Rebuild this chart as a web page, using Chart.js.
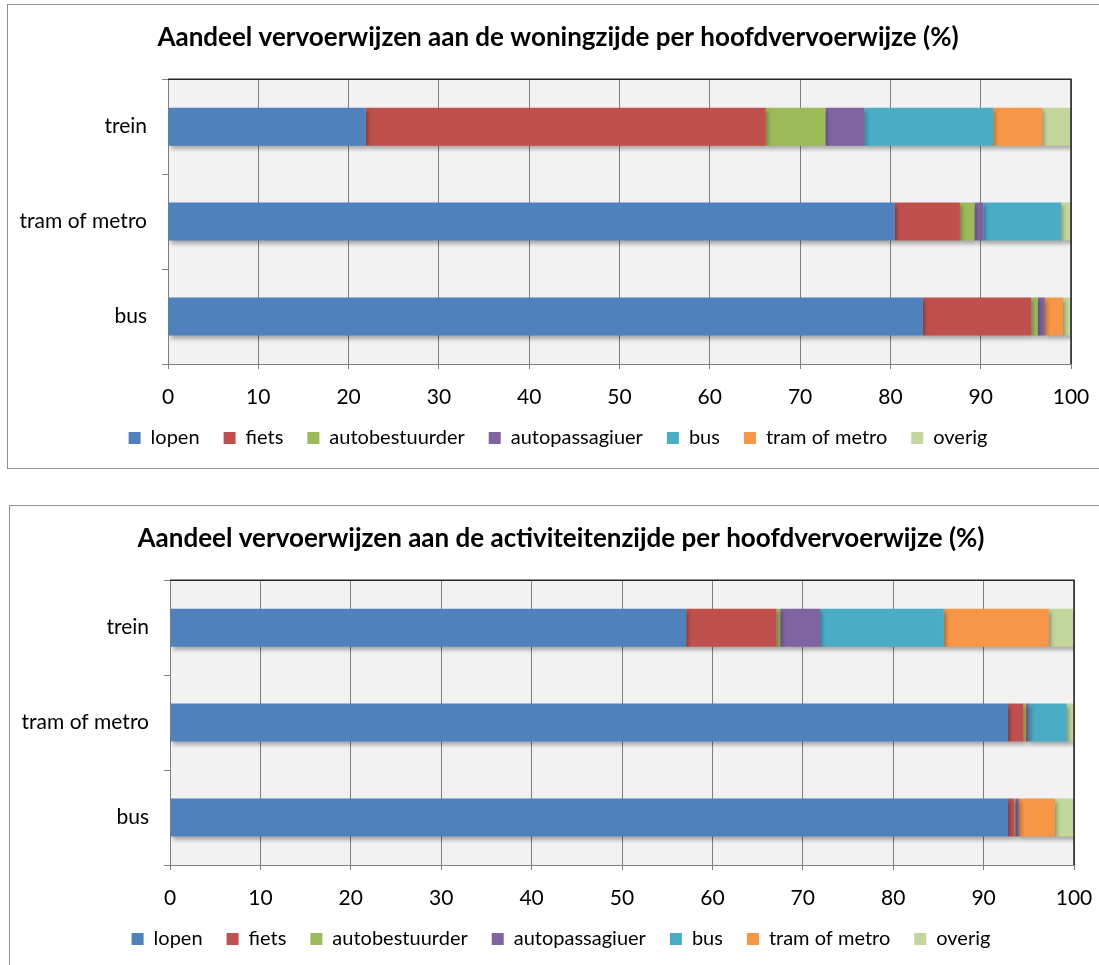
<!DOCTYPE html>
<html>
<head>
<meta charset="utf-8">
<script src="https://cdn.jsdelivr.net/npm/chart.js@4.4.0/dist/chart.umd.min.js"></script>
<style>
    html, body { margin: 0; padding: 0; background: #ffffff; overflow: hidden; width: 1099px; height: 965px; }
    .box { position: absolute; border: 1px solid #8e8e8e; background: #ffffff; }
    #box1 { left: 7px; top: 4px; }
    #box2 { left: 9px; top: 505px; }
    canvas { display: block; }
</style>
</head>
<body>
<div class="box" id="box1"><canvas id="woningChart" width="1100" height="463"></canvas></div>
<div class="box" id="box2"><canvas id="activiteitChart" width="1102" height="463"></canvas></div>
<script>
// Categories (top to bottom) and legend names
const categories = ['trein', 'tram of metro', 'bus'];
const modes = ['lopen', 'fiets', 'autobestuurder', 'autopassagiuer', 'bus', 'tram of metro', 'overig'];
const xTicks = [0, 10, 20, 30, 40, 50, 60, 70, 80, 90, 100];

// Woningzijde (%)
const woningLopen = [21.9, 80.5, 83.6];
const woningFiets = [44.3, 7.2, 12.0];
const woningAutobestuurder = [6.6, 1.6, 0.7];
const woningAutopassagier = [4.3, 1.0, 0.8];
const woningBus = [14.3, 8.6, 0];
const woningTramMetro = [5.4, 0, 2.0];
const woningOverig = [3.2, 1.1, 0.9];

// Activiteitenzijde (%)
const activiteitLopen = [57.1, 92.7, 92.7];
const activiteitFiets = [10.0, 1.7, 0.7];
const activiteitAutobestuurder = [0.4, 0.3, 0.1];
const activiteitAutopassagier = [4.4, 0.3, 0.4];
const activiteitBus = [13.7, 4.2, 0];
const activiteitTramMetro = [11.6, 0, 4.0];
const activiteitOverig = [2.8, 0.8, 2.1];

const seriesColors = ['#4F81BD', '#C0504D', '#9BBB59', '#8064A2', '#4BACC6', '#F79646', '#C3D69B'];

const FONT = 'Lato, "Liberation Sans", sans-serif';

// Grey plot area background
const plotBackground = {
    id: 'plotBackground',
    beforeDraw(chart) {
        const {ctx, chartArea} = chart;
        ctx.save();
        ctx.fillStyle = '#F2F2F2';
        ctx.fillRect(chartArea.left, chartArea.top, chartArea.right - chartArea.left, chartArea.bottom - chartArea.top);
        ctx.restore();
    },
    afterDraw(chart) {
        // dark border on top and right of the plot area
        const {ctx, chartArea} = chart;
        ctx.save();
        ctx.strokeStyle = '#262626';
        ctx.lineWidth = 1.5;
        ctx.beginPath();
        ctx.moveTo(chartArea.left, chartArea.top);
        ctx.lineTo(chartArea.right, chartArea.top);
        ctx.lineTo(chartArea.right, chartArea.bottom);
        ctx.stroke();
        ctx.restore();
    }
};

// Soft shadow under the bars
const barShadow = {
    id: 'barShadow',
    beforeDatasetsDraw(chart) {
        const ctx = chart.ctx;
        ctx.save();
        ctx.shadowColor = 'rgba(0, 0, 0, 0.3)';
        ctx.shadowBlur = 4;
        ctx.shadowOffsetX = 2;
        ctx.shadowOffsetY = 3;
    },
    afterDatasetsDraw(chart) {
        chart.ctx.restore();
    }
};

function makeChart(canvasId, titleText, seriesData, rightSpace) {
    const ctx = document.getElementById(canvasId).getContext('2d');
    return new Chart(ctx, {
        type: 'bar',
        data: {
            labels: categories,
            datasets: modes.map((name, i) => ({
                label: name,
                data: seriesData[i],
                backgroundColor: seriesColors[i],
                borderWidth: 0,
                barPercentage: 0.4,
                categoryPercentage: 1.0
            }))
        },
        options: {
            indexAxis: 'y',
            responsive: false,
            animation: false,
            devicePixelRatio: 1,
            layout: {
                padding: { left: 0, right: 0, top: 0, bottom: 10 }
            },
            plugins: {
                title: {
                    display: true,
                    text: titleText,
                    color: '#000000',
                    font: { family: FONT, size: 26, weight: 'bold' },
                    padding: { top: 17, bottom: 26 }
                },
                legend: {
                    position: 'bottom',
                    labels: {
                        color: '#000000',
                        font: { family: FONT, size: 20 },
                        boxWidth: 12,
                        boxHeight: 12,
                        padding: 24
                    }
                },
                tooltip: { enabled: false }
            },
            scales: {
                x: {
                    stacked: true,
                    min: 0,
                    max: 100,
                    afterBuildTicks: scale => {
                        scale.ticks = xTicks.map(v => ({ value: v }));
                    },
                    afterFit: scale => { scale.height = 40; },
                    ticks: {
                        color: '#000000',
                        font: { family: FONT, size: 21 },
                        padding: 16,
                        maxRotation: 0
                    },
                    grid: {
                        color: '#808080',
                        tickLength: 5,
                        drawOnChartArea: true
                    },
                    border: { color: '#808080' }
                },
                y: {
                    stacked: true,
                    afterFit: scale => { scale.width = 160; },
                    ticks: {
                        color: '#000000',
                        font: { family: FONT, size: 21 },
                        padding: 15
                    },
                    grid: {
                        offset: true,
                        color: '#808080',
                        tickLength: 6,
                        drawOnChartArea: false
                    },
                    border: { color: '#808080' }
                },
                // empty spacer on the right so title and legend centre on the whole box
                spacer: {
                    type: 'linear',
                    position: 'right',
                    display: true,
                    afterFit: scale => { scale.width = rightSpace; },
                    ticks: { display: false },
                    grid: { display: false },
                    border: { display: false }
                }
            }
        },
        plugins: [plotBackground, barShadow]
    });
}

makeChart('woningChart',
    'Aandeel vervoerwijzen aan de woningzijde per hoofdvervoerwijze (%)',
    [woningLopen, woningFiets, woningAutobestuurder, woningAutopassagier, woningBus, woningTramMetro, woningOverig],
    37);

makeChart('activiteitChart',
    'Aandeel vervoerwijzen aan de activiteitenzijde per hoofdvervoerwijze (%)',
    [activiteitLopen, activiteitFiets, activiteitAutobestuurder, activiteitAutopassagier, activiteitBus, activiteitTramMetro, activiteitOverig],
    38);
</script>
</body>
</html>
